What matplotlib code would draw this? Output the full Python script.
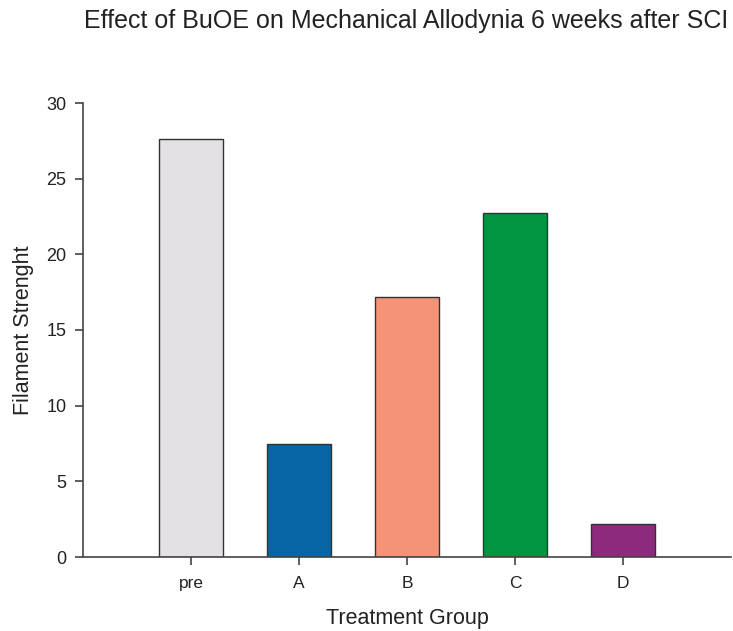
import matplotlib
matplotlib.use("Agg")
import matplotlib.pyplot as plt

plt.rcParams['font.family'] = ['Liberation Sans', 'DejaVu Sans']

groups = ["pre", "A", "B", "C", "D"]
filament_strength = [27.6, 7.5, 17.2, 22.7, 2.2]
bar_colors = ["#E3E1E4", "#0765A5", "#F49377", "#009640", "#8E2A7D"]
y_ticks = [0, 5, 10, 15, 20, 25, 30]

fig = plt.figure(figsize=(7.33, 6.31), dpi=100)
ax = fig.add_axes([83 / 733, 1 - 557 / 631, (731 - 83) / 733, (557 - 103) / 631])

x = list(range(len(groups)))
ax.bar(x, filament_strength, width=0.6, color=bar_colors,
       edgecolor="#333333", linewidth=1.0, zorder=2)

ax.set_xlim(-1, 5)
ax.set_ylim(0, 30)
ax.set_xticks(x)
ax.set_xticklabels(groups, fontsize=12.5)
ax.set_yticks(y_ticks)
ax.set_yticklabels([str(v) for v in y_ticks], fontsize=13)

for side in ("top", "right"):
    ax.spines[side].set_visible(False)
for side in ("left", "bottom"):
    ax.spines[side].set_color("#444444")
    ax.spines[side].set_linewidth(1.2)

ax.tick_params(axis="y", direction="out", length=6, width=1.2, color="#444444",
               labelcolor="#222222", pad=6)
ax.tick_params(axis="x", direction="out", length=6, width=1.2, color="#444444",
               labelcolor="#222222", pad=8)

ax.set_xlabel("Treatment Group", fontsize=15.5, color="#222222", labelpad=12)
ax.set_ylabel("Filament Strenght", fontsize=15.5, color="#222222", labelpad=9)

fig.text(406 / 733, 1 - 21 / 631, "Effect of BuOE on Mechanical Allodynia 6 weeks after SCI",
         ha="center", va="center", fontsize=18, color="#222222")

fig.savefig("out.png", dpi=100, facecolor="white")
